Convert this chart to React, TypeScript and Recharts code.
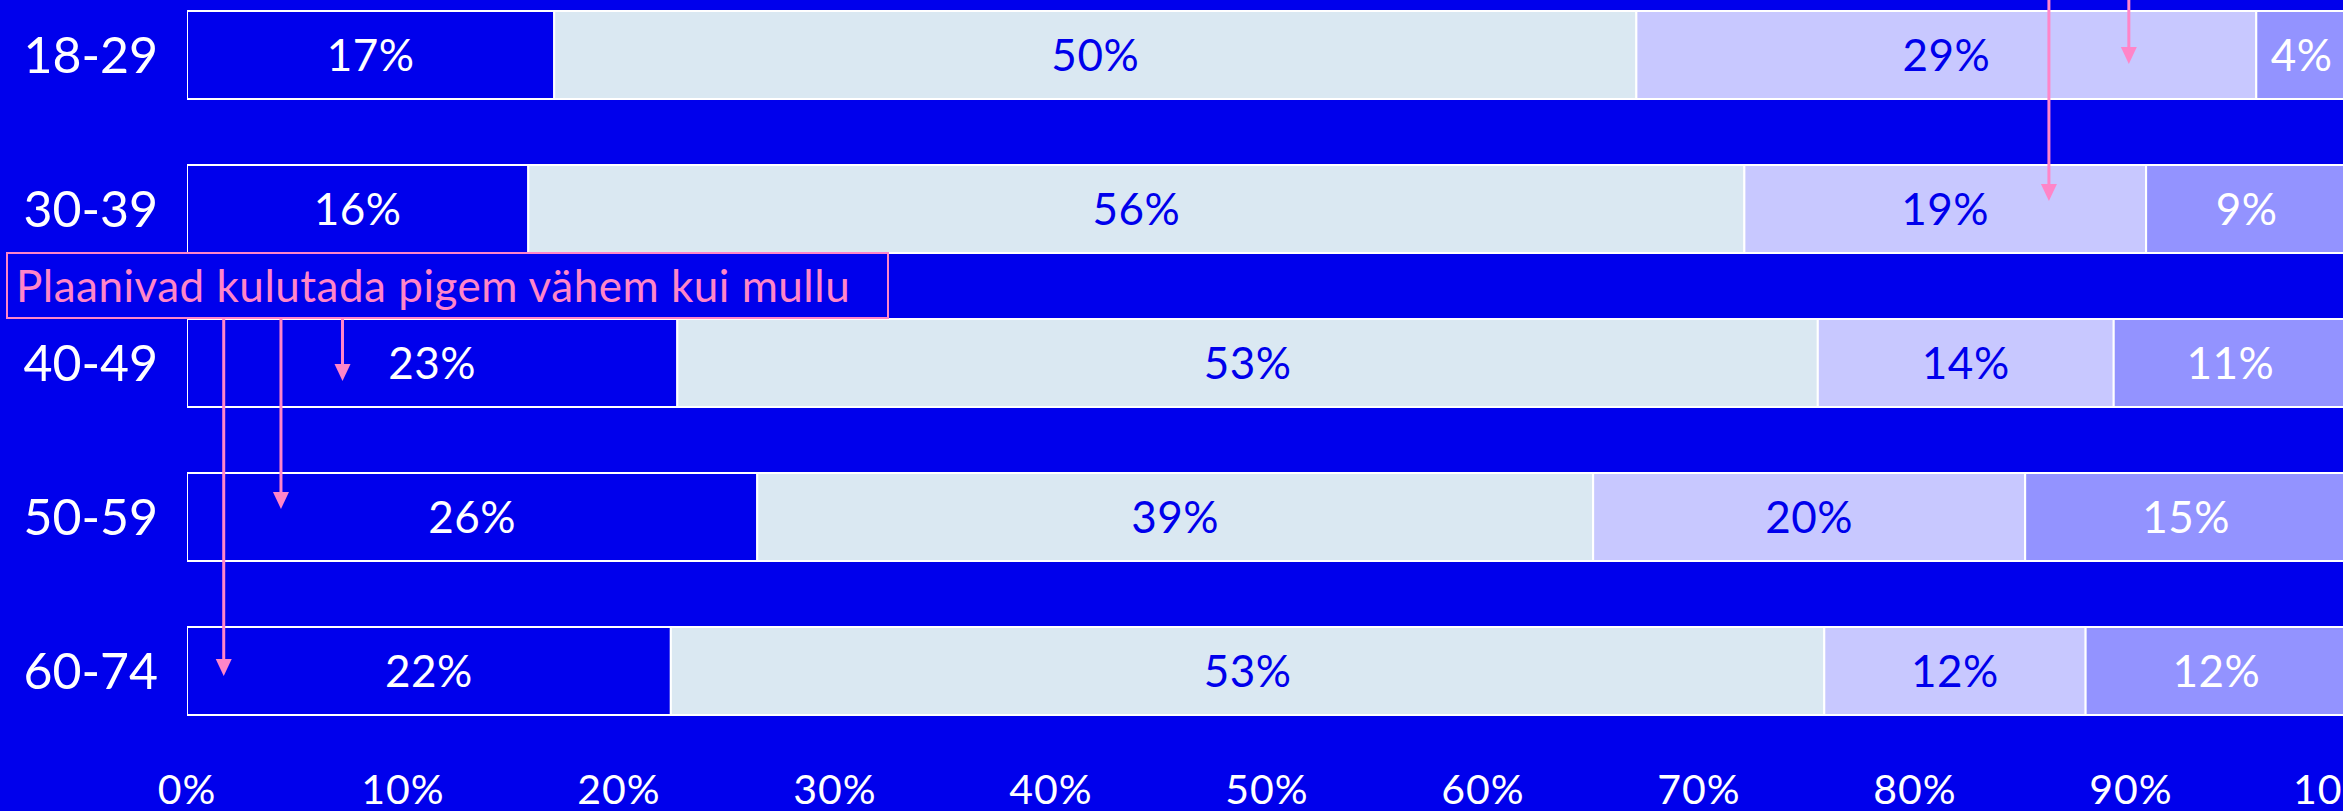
import { BarChart, Bar, XAxis, YAxis, LabelList, ReferenceDot } from "recharts";

// age groups, top to bottom
const ageGroups = ["18-29", "30-39", "40-49", "50-59", "60-74"];

// shares in % (labels are the rounded values)
const share1 = [17.0, 15.8, 22.7, 26.4, 22.4];
const share2 = [50.1, 56.3, 52.8, 38.7, 53.4];
const share3 = [28.7, 18.6, 13.7, 20.0, 12.1];
const share4 = [4.2, 9.3, 10.8, 14.9, 12.1];

const xTicks = [0, 10, 20, 30, 40, 50, 60, 70, 80, 90, 100];

const annotationText = "Plaanivad kulutada pigem vähem kui mullu";

// arrows: x in %, target category, small vertical nudge of the tip
const arrowMarks = [
  { x: 1.7, group: "60-74", from: "box", dy: 5 },
  { x: 4.35, group: "50-59", from: "box", dy: -8 },
  { x: 7.2, group: "40-49", from: "box", dy: 18 },
  { x: 86.2, group: "30-39", from: "top", dy: -8 },
  { x: 89.9, group: "18-29", from: "top", dy: 9 },
];

const data = ageGroups.map((g, i) => ({
  group: g,
  s1: share1[i],
  s2: share2[i],
  s3: share3[i],
  s4: share4[i],
}));

const BG = "#0000EC";
const PINK = "#FF85C8";
const CHART_TOP = -22; // page y where the plot starts
const BOX_BOTTOM = 319 - CHART_TOP; // in chart coords

const pct = (v: any) => `${Math.round(Number(v))}%`;

const arrowShape = (startY: number, dy: number) => (props: any) => {
  const { cx, cy } = props;
  const tip = cy + dy;
  return (
    <g>
      <line x1={cx} y1={startY} x2={cx} y2={tip - 12} stroke={PINK} strokeWidth={3} />
      <polygon points={`${cx - 8},${tip - 17} ${cx + 8},${tip - 17} ${cx},${tip}`} fill={PINK} />
    </g>
  );
};

const labelStyle = { stroke: "none", fontSize: 44, letterSpacing: 0.5 };

export default function App() {
  return (
    <div
      style={{
        position: "fixed",
        left: 0,
        top: 0,
        width: 2343,
        height: 811,
        overflow: "hidden",
        background: BG,
        fontFamily: "Lato, sans-serif",
      }}
    >
      <div style={{ position: "absolute", left: 0, top: CHART_TOP }}>
        <BarChart
          width={2357}
          height={830}
          data={data}
          layout="vertical"
          margin={{ top: 0, right: 10, bottom: 0, left: 0 }}
        >
          <XAxis
            type="number"
            domain={[0, 100]}
            allowDataOverflow
            ticks={xTicks}
            interval={0}
            tickFormatter={(v) => `${v}%`}
            axisLine={false}
            tickLine={false}
            tickSize={0}
            tickMargin={27}
            height={60}
            tick={{ fill: "#ffffff", fontSize: 41, letterSpacing: 1 }}
          />
          <YAxis
            type="category"
            dataKey="group"
            width={187}
            axisLine={false}
            tickLine={false}
            tickSize={0}
            tickMargin={29}
            tick={{ fill: "#ffffff", fontSize: 50 }}
          />
          <Bar dataKey="s1" stackId="a" fill={BG} stroke="#ffffff" strokeWidth={2} barSize={88} isAnimationActive={false}>
            <LabelList dataKey="s1" position="center" formatter={pct} fill="#ffffff" {...labelStyle} />
          </Bar>
          <Bar dataKey="s2" stackId="a" fill="#DAE8F2" stroke="#ffffff" strokeWidth={2} barSize={88} isAnimationActive={false}>
            <LabelList dataKey="s2" position="center" formatter={pct} fill={BG} {...labelStyle} />
          </Bar>
          <Bar dataKey="s3" stackId="a" fill="#C8C8FF" stroke="#ffffff" strokeWidth={2} barSize={88} isAnimationActive={false}>
            <LabelList dataKey="s3" position="center" formatter={pct} fill={BG} {...labelStyle} />
          </Bar>
          <Bar dataKey="s4" stackId="a" fill="#9393FF" stroke="#ffffff" strokeWidth={2} barSize={88} isAnimationActive={false}>
            <LabelList dataKey="s4" position="center" formatter={pct} fill="#ffffff" {...labelStyle} />
          </Bar>
          {arrowMarks.map((a, i) => (
            <ReferenceDot
              key={i}
              x={a.x}
              y={a.group}
              ifOverflow="visible"
              shape={arrowShape(a.from === "box" ? BOX_BOTTOM : -40, a.dy)}
            />
          ))}
        </BarChart>
      </div>
      <div
        style={{
          position: "absolute",
          left: 6,
          top: 252,
          width: 883,
          height: 67,
          boxSizing: "border-box",
          border: `2px solid ${PINK}`,
          background: BG,
          color: PINK,
          fontSize: 44,
          letterSpacing: 0.5,
          lineHeight: "63px",
          paddingLeft: 8,
          whiteSpace: "nowrap",
        }}
      >
        {annotationText}
      </div>
    </div>
  );
}
